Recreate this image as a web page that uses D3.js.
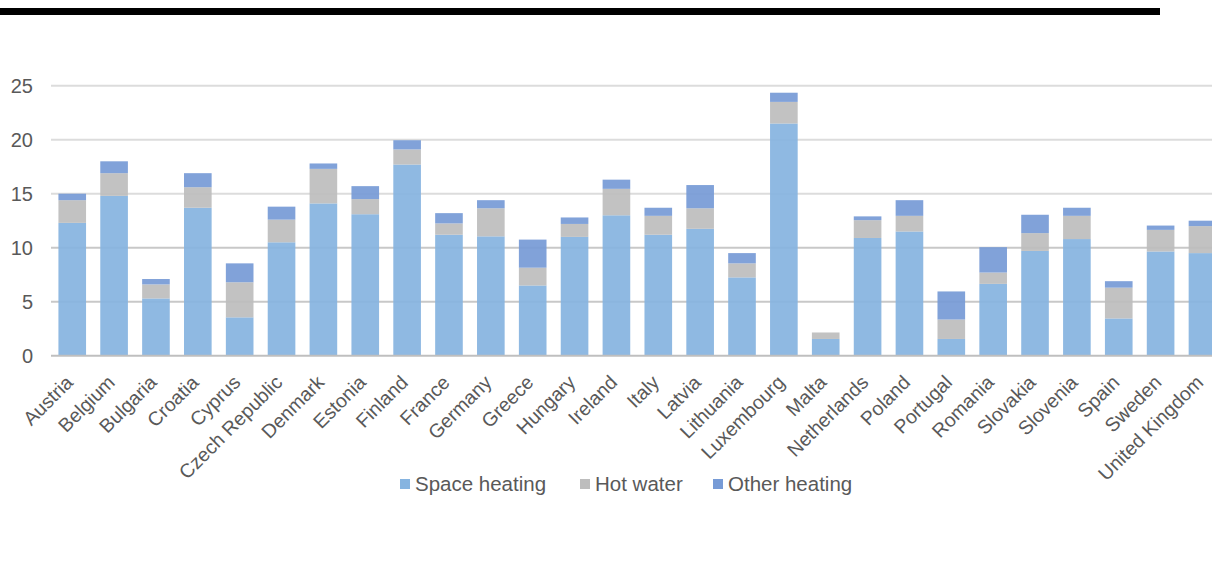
<!DOCTYPE html>
<html>
<head>
<meta charset="utf-8">
<script src="https://cdn.jsdelivr.net/npm/d3@7"></script>
<style>
  html, body { margin: 0; padding: 0; background: #ffffff; }
  svg { display: block; font-family: "Liberation Sans", Arial, sans-serif; }
</style>
</head>
<body>
<svg id="chart" width="1212" height="562"></svg>
<script>
// Household heating energy use by country, split by end use
const countries = ["Austria", "Belgium", "Bulgaria", "Croatia", "Cyprus", "Czech Republic", "Denmark",
  "Estonia", "Finland", "France", "Germany", "Greece", "Hungary", "Ireland", "Italy", "Latvia",
  "Lithuania", "Luxembourg", "Malta", "Netherlands", "Poland", "Portugal", "Romania", "Slovakia",
  "Slovenia", "Spain", "Sweden", "United Kingdom"];
const spaceHeating = [12.3, 14.8, 5.3, 13.7, 3.55, 10.5, 14.1, 13.1, 17.7, 11.2, 11.05, 6.5, 11.0, 13.0,
  11.2, 11.75, 7.25, 21.5, 1.55, 10.9, 11.5, 1.55, 6.65, 9.7, 10.8, 3.45, 9.65, 9.5];
const hotWater = [2.1, 2.1, 1.3, 1.9, 3.25, 2.1, 3.2, 1.4, 1.4, 1.05, 2.6, 1.65, 1.2, 2.45,
  1.75, 1.9, 1.3, 2.0, 0.6, 1.65, 1.45, 1.8, 1.05, 1.65, 2.15, 2.85, 2.0, 2.5];
const otherHeating = [0.6, 1.1, 0.5, 1.3, 1.75, 1.2, 0.5, 1.2, 0.85, 0.95, 0.75, 2.6, 0.6, 0.85,
  0.75, 2.15, 0.95, 0.85, 0.0, 0.35, 1.45, 2.6, 2.35, 1.7, 0.75, 0.6, 0.4, 0.5];
const seriesNames = ["Space heating", "Hot water", "Other heating"];
const yTicks = [0, 5, 10, 15, 20, 25];

const colors = { "Space heating": "#86b4e0", "Hot water": "#bdbdbd", "Other heating": "#779bd6" };

const rows = countries.map((c, i) => ({
  country: c,
  "Space heating": spaceHeating[i],
  "Hot water": hotWater[i],
  "Other heating": otherHeating[i]
}));
const stacked = d3.stack().keys(seriesNames)(rows);

const svg = d3.select("#chart");
const W = 1212;

// heavy rule across the top
svg.append("rect").attr("x", 0).attr("y", 8).attr("width", 1160).attr("height", 7).attr("fill", "#000");

const x = d3.scaleBand().domain(countries).range([51.3, 1223.4]).paddingInner(0.34).paddingOuter(0.17);
const y = d3.scaleLinear().domain([0, 25]).range([355.7, 85.7]);

// gridlines
svg.append("g").selectAll("line").data(yTicks.filter(t => t > 0)).join("line")
  .attr("x1", 51).attr("x2", W)
  .attr("y1", d => y(d)).attr("y2", d => y(d))
  .attr("stroke", d => (d === 5 || d === 10) ? "#c8c8c8" : "#dcdcdc").attr("stroke-width", 2);

// y tick labels
svg.append("g").selectAll("text").data(yTicks).join("text")
  .attr("x", 33).attr("y", d => y(d)).attr("dy", "0.35em")
  .attr("text-anchor", "end").attr("font-size", 20).attr("fill", "#595959")
  .text(d => d);

// stacked bars
svg.append("g").selectAll("g").data(stacked).join("g")
  .attr("fill", d => colors[d.key])
  .attr("fill-opacity", 0.93)
  .selectAll("rect").data(d => d).join("rect")
  .attr("x", d => x(d.data.country))
  .attr("width", x.bandwidth())
  .attr("y", d => y(d[1]))
  .attr("height", d => Math.max(0, y(d[0]) - y(d[1])));

// baseline
svg.append("line").attr("x1", 51).attr("x2", W).attr("y1", y(0)).attr("y2", y(0))
  .attr("stroke", "#bfbfbf").attr("stroke-width", 2);

// category labels
svg.append("g").selectAll("text").data(countries).join("text")
  .attr("transform", d => `translate(${x(d) + x.bandwidth() / 2 + 2},${y(0) + 28}) rotate(-45)`)
  .attr("text-anchor", "end").attr("font-size", 19.5).attr("fill", "#595959")
  .text(d => d);

// legend
const legendX = [400, 580, 713];
const lg = svg.append("g").selectAll("g").data(seriesNames).join("g")
  .attr("transform", (d, i) => `translate(${legendX[i]},479)`);
lg.append("rect").attr("width", 10).attr("height", 10).attr("fill", d => colors[d]);
lg.append("text").attr("x", 15).attr("y", 5).attr("dy", "0.35em")
  .attr("font-size", 20.5).attr("fill", "#595959").text(d => d);
</script>
</body>
</html>
